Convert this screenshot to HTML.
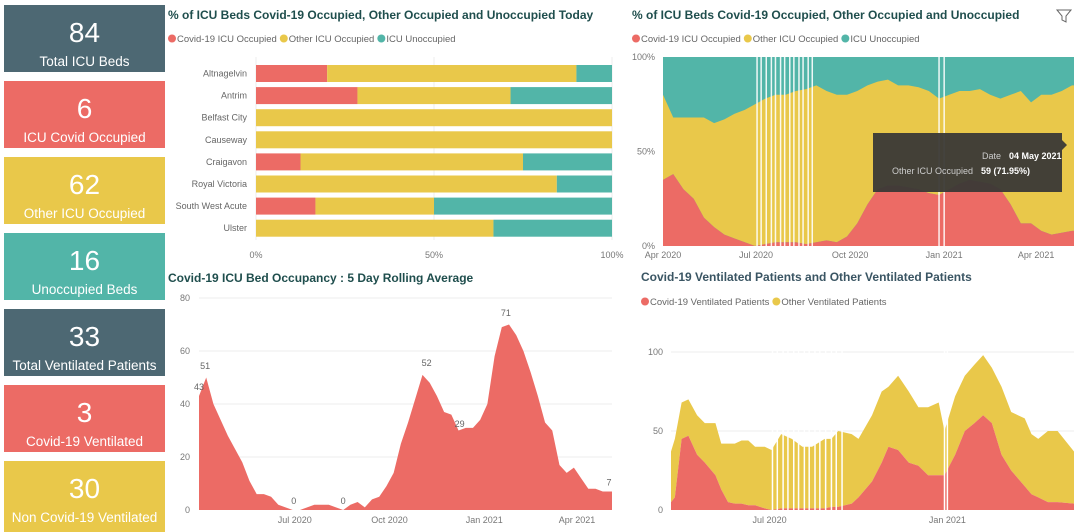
<!DOCTYPE html>
<html><head><meta charset="utf-8"><style>
html,body{margin:0;padding:0;background:#fff;width:1080px;height:532px;overflow:hidden}
svg{display:block;font-family:"Liberation Sans","DejaVu Sans",sans-serif}
.card{position:absolute;left:4px;width:161px;height:67px;color:#fff;font-family:"Liberation Sans","DejaVu Sans",sans-serif;text-align:center}
.card .n{font-size:28px;line-height:30px;margin-top:13px}
.card .l{font-size:13.5px;line-height:16px;margin-top:6px}
</style></head><body>
<div style="position:relative;width:1080px;height:532px">
<div class="card" style="top:5px;background:#4d6873"><div class="n">84</div><div class="l">Total ICU Beds</div></div>
<div class="card" style="top:81px;background:#ec6b65"><div class="n">6</div><div class="l">ICU Covid Occupied</div></div>
<div class="card" style="top:157px;background:#e9c84a"><div class="n">62</div><div class="l">Other ICU Occupied</div></div>
<div class="card" style="top:233px;background:#52b5a8"><div class="n">16</div><div class="l">Unoccupied Beds</div></div>
<div class="card" style="top:309px;background:#4d6873"><div class="n">33</div><div class="l">Total Ventilated Patients</div></div>
<div class="card" style="top:385px;background:#ec6b65"><div class="n">3</div><div class="l">Covid-19 Ventilated</div></div>
<div class="card" style="top:461px;background:#e9c84a;height:75px"><div class="n">30</div><div class="l">Non Covid-19 Ventilated</div></div>
<svg id="s" width="1080" height="532" style="position:absolute;left:0;top:0" xmlns="http://www.w3.org/2000/svg"></svg>
</div>
<script>
// ---- Chart 1 data ----
const hospitals=["Altnagelvin","Antrim","Belfast City","Causeway","Craigavon","Royal Victoria","South West Acute","Ulster"];
const hospCovid=[20,28.5,0,0,12.5,0,16.7,0];
const hospOther=[70,43,100,100,62.5,84.5,33.3,66.7];
const hospUnocc=[10,28.5,0,0,25,15.5,50,33.3];
const pctTicks=["0%","50%","100%"];
// ---- Chart 2 data (weekly, day 0 = 30 Mar 2020) ----
const rollDays=[0,7,14,21,28,35,42,49,56,63,70,77,84,91,98,105,112,119,126,133,140,147,154,161,168,175,182,189,196,203,210,217,224,231,238,245,252,259,266,273,280,287,294,301,308,315,322,329,336,343,350,357,364,371,378,385,392,399,401];
const rollVals=[43,50,40,34,28,23,18,11,6,6,5,2,1,0,0,1,2,2,2,1,0,2,3,1,4,5,9,14,25,33,42,51,48,43,37,36,30,31,31,34,40,58,69,70,66,60,52,43,33,30,17,14,16,12,8,8,7,7,7];
const rollLabelDays=[6,0,92,140,221,253,298,401];
const rollLabelVals=[51,43,0,0,52,29,71,7];
const rollYTicks=[0,20,40,60,80];
const monthLabels=["Jul 2020","Oct 2020","Jan 2021","Apr 2021"];
const monthDays2=[93,185,277,367];
// ---- Chart 3 data (every 10 days, day 0 = 1 Apr 2020) ----
const shareDays=[0,10,20,30,40,50,60,70,80,90,100,110,120,130,140,150,160,170,180,190,200,210,220,230,240,250,260,270,280,290,300,310,320,330,340,350,360,370,380,390,400];
const shareCovid=[35,38,30,25,15,10,6,4,2,0,1,2,2,2,1,2,3,2,5,12,22,30,32,32,31,30,28,27,30,33,35,34,33,30,22,12,12,8,6,7,8];
const shareOther=[45,30,38,43,53,55,61,66,70,75,77,78,78,80,82,83,79,78,75,70,63,57,56,53,54,54,54,51,50,49,47,49,47,48,58,70,64,72,74,75,77];
const shareTicks=["0%","50%","100%"];
const monthLabels3=["Apr 2020","Jul 2020","Oct 2020","Jan 2021","Apr 2021"];
const monthDays3=[0,91,183,275,365];
const gapDays3=[92,96,101,106,110,115,119,124,128,133,137,142,146,270,275];
// ---- Chart 4 data (day 0 = 21 Mar 2020) ----
const ventDays=[0,4,11,18,27,35,46,52,59,66,73,80,87,97,104,114,125,136,146,159,166,173,187,194,208,218,225,235,246,256,266,277,283,294,304,314,323,332,342,352,359,366,373,380,390,400,417];
const ventCovid=[5,8,45,47,35,30,22,13,5,4,4,3,3,1,0,1,1,1,1,1,2,2,4,8,18,30,40,38,30,28,22,22,22,35,50,55,60,55,35,25,20,15,10,8,5,5,4];
const ventOther=[32,37,23,23,25,25,33,29,37,38,40,41,37,39,38,47,44,39,39,44,43,48,44,37,42,45,38,47,45,37,43,46,28,37,35,37,38,35,43,37,40,43,38,37,45,45,33];
const ventYTicks=[0,50,100];
const monthLabels4=["Jul 2020","Jan 2021"];
const monthDays4=[102,286];
const gapDays4=[105,110,116,121,127,132,138,143,149,154,160,166,171,177,283,286];

const S=document.getElementById('s');const NS="http://www.w3.org/2000/svg";
function el(t,a,name,txt){const e=document.createElementNS(NS,t);for(const k in a)e.setAttribute(k,a[k]);


if(txt!==undefined)e.textContent=txt;S.appendChild(e);return e;}
const RED="#ec6b65",YEL="#e9c84a",TEAL="#52b5a8",GRID="#ececec",AX="#777";
function title(x,y,t,c,n){el('text',{x:x,y:y,'font-size':12,'font-weight':'bold',fill:c},n,t);}
function legend(x,y,items,n){let cx=x;items.forEach((it,i)=>{el('circle',{cx:cx+4,cy:y-3.5,r:4,fill:it[1]},n+'-dot-'+i);
const t=el('text',{x:cx+9,y:y,'font-size':9.5,fill:'#666'},n+'-label-'+i,it[0]);cx+=9+t.getComputedTextLength()+3;});}
function linArea(days,vals,base,xf,yf,endDay,fill,name){let d="";
for(let i=0;i<days.length;i++){const top=vals[i]+(base?base[i]:0);d+=(i?" L":"M")+xf(days[i])+","+yf(top);}
d+=" L"+xf(endDay)+","+yf(vals[vals.length-1]+(base?base[base.length-1]:0));
d+=" L"+xf(endDay)+","+yf(base?base[base.length-1]:0);
for(let i=days.length-1;i>=0;i--){d+=" L"+xf(days[i])+","+yf(base?base[i]:0);}
el('path',{d:d+"Z",fill:fill},name);}
function smoothArea(days,vals,xf,yf,fill,name){let d="M"+xf(days[0])+","+yf(0);days.forEach((dd,i)=>{d+=" L"+xf(dd)+","+yf(vals[i]);});d+=" L"+xf(days[days.length-1])+","+yf(0)+"Z";el('path',{d:d,fill:fill},name);}

// ===== Chart 1 =====
title(168,19,"% of ICU Beds Covid-19 Occupied, Other Occupied and Unoccupied Today","#1f4e4d","chart1-title");
legend(168,42,[["Covid-19 ICU Occupied",RED],["Other ICU Occupied",YEL],["ICU Unoccupied",TEAL]],"chart1-legend");
const x1=v=>256+v/100*356;
[0,50,100].forEach((v,i)=>{el('line',{x1:x1(v),x2:x1(v),y1:57,y2:240,stroke:GRID},"chart1-gridline");
el('text',{x:x1(v),y:258,'font-size':9,fill:AX,'text-anchor':'middle'},"chart1-x-tick",pctTicks[i]);});
hospitals.forEach((h,i)=>{const cy=73.5+i*22.1;const y=cy-8.5;
el('text',{x:247,y:cy+3,'font-size':9,fill:'#666','text-anchor':'end'},"chart1-y-label",h);
let acc=0;[[hospCovid,RED,'covid'],[hospOther,YEL,'other'],[hospUnocc,TEAL,'unoccupied']].forEach(s=>{const v=s[0][i];
if(v>0)el('rect',{x:x1(acc),y:y,width:x1(acc+v)-x1(acc),height:17,fill:s[1]},"bar-"+s[2]+"-"+h.toLowerCase().replace(/ /g,'-'));acc+=v;});});

// ===== Chart 2 =====
title(168,282,"Covid-19 ICU Bed Occupancy : 5 Day Rolling Average","#1f4e4d","chart2-title");
const x2=d=>199+d*(413/401),y2=v=>510-v/80*212;
rollYTicks.forEach(v=>{if(v>0)el('line',{x1:199,x2:612,y1:y2(v),y2:y2(v),stroke:GRID},"chart2-gridline");
el('text',{x:190,y:y2(v)+3,'font-size':9,fill:AX,'text-anchor':'end'},"chart2-y-tick",String(v));});
smoothArea(rollDays,rollVals,x2,y2,RED,"chart2-area");
monthLabels.forEach((m,i)=>el('text',{x:x2(monthDays2[i]),y:523,'font-size':9,fill:AX,'text-anchor':'middle'},"chart2-x-tick",m));
rollLabelDays.forEach((d,i)=>el('text',{x:Math.min(x2(d),609),y:y2(rollLabelVals[i])-6,'font-size':9,fill:'#666','text-anchor':'middle'},"chart2-data-label",String(rollLabelVals[i])));

// ===== Chart 3 =====
title(632,19,"% of ICU Beds Covid-19 Occupied, Other Occupied and Unoccupied","#1f4e4d","chart3-title");
legend(632,42,[["Covid-19 ICU Occupied",RED],["Other ICU Occupied",YEL],["ICU Unoccupied",TEAL]],"chart3-legend");
const x3=d=>663+d*(411/402),y3=v=>246-v/100*189;
el('rect',{x:663,y:57,width:411,height:189,fill:TEAL},"chart3-unoccupied-area");
linArea(shareDays,shareOther,shareCovid,x3,y3,402,YEL,"chart3-other-area");
linArea(shareDays,shareCovid,null,x3,y3,402,RED,"chart3-covid-area");
gapDays3.forEach(d=>el('line',{x1:x3(d),x2:x3(d),y1:57,y2:246,stroke:'#fff','stroke-width':1.5,opacity:0.9},"chart3-gap"));
shareTicks.forEach((t,i)=>el('text',{x:655,y:y3(i*50)+3,'font-size':9,fill:AX,'text-anchor':'end'},"chart3-y-tick",t));
monthLabels3.forEach((m,i)=>el('text',{x:x3(monthDays3[i]),y:258,'font-size':9,fill:AX,'text-anchor':'middle'},"chart3-x-tick",m));
el('path',{d:"M1057,10 L1071,10 L1066,16 L1066,22 L1062,20 L1062,16 Z",fill:'none',stroke:'#666','stroke-width':1},"filter-icon");
el('path',{d:"M873,133 L1062,133 L1062,140 L1067,145 L1062,150 L1062,192 L873,192 Z",fill:'#3a3936',opacity:0.95},"tooltip-box");
el('text',{x:1001,y:159,'font-size':9,fill:'#ccc','text-anchor':'end'},"tooltip-date-label","Date");
el('text',{x:1009,y:159,'font-size':9,fill:'#fff','font-weight':'bold'},"tooltip-date-value","04 May 2021");
el('text',{x:973,y:174,'font-size':9,fill:'#ccc','text-anchor':'end'},"tooltip-series-label","Other ICU Occupied");
el('text',{x:981,y:174,'font-size':9,fill:'#fff','font-weight':'bold'},"tooltip-series-value","59 (71.95%)");

// ===== Chart 4 =====
title(641,281,"Covid-19 Ventilated Patients and Other Ventilated Patients","#3a5563","chart4-title");
legend(641,305,[["Covid-19 Ventilated Patients",RED],["Other Ventilated Patients",YEL]],"chart4-legend");
const x4=d=>671+d*(403/417),y4=v=>510-v/100*158;
ventYTicks.forEach(v=>{if(v>0)el('line',{x1:671,x2:1074,y1:y4(v),y2:y4(v),stroke:GRID},"chart4-gridline");
el('text',{x:663,y:y4(v)+3,'font-size':9,fill:AX,'text-anchor':'end'},"chart4-y-tick",String(v));});
linArea(ventDays,ventOther,ventCovid,x4,y4,417,YEL,"chart4-other-area");
linArea(ventDays,ventCovid,null,x4,y4,417,RED,"chart4-covid-area");
gapDays4.forEach(d=>el('line',{x1:x4(d),x2:x4(d),y1:340,y2:511,stroke:'#fff','stroke-width':1.5},"chart4-gap"));
monthLabels4.forEach((m,i)=>el('text',{x:x4(monthDays4[i]),y:523,'font-size':9,fill:AX,'text-anchor':'middle'},"chart4-x-tick",m));
</script>
</body></html>
